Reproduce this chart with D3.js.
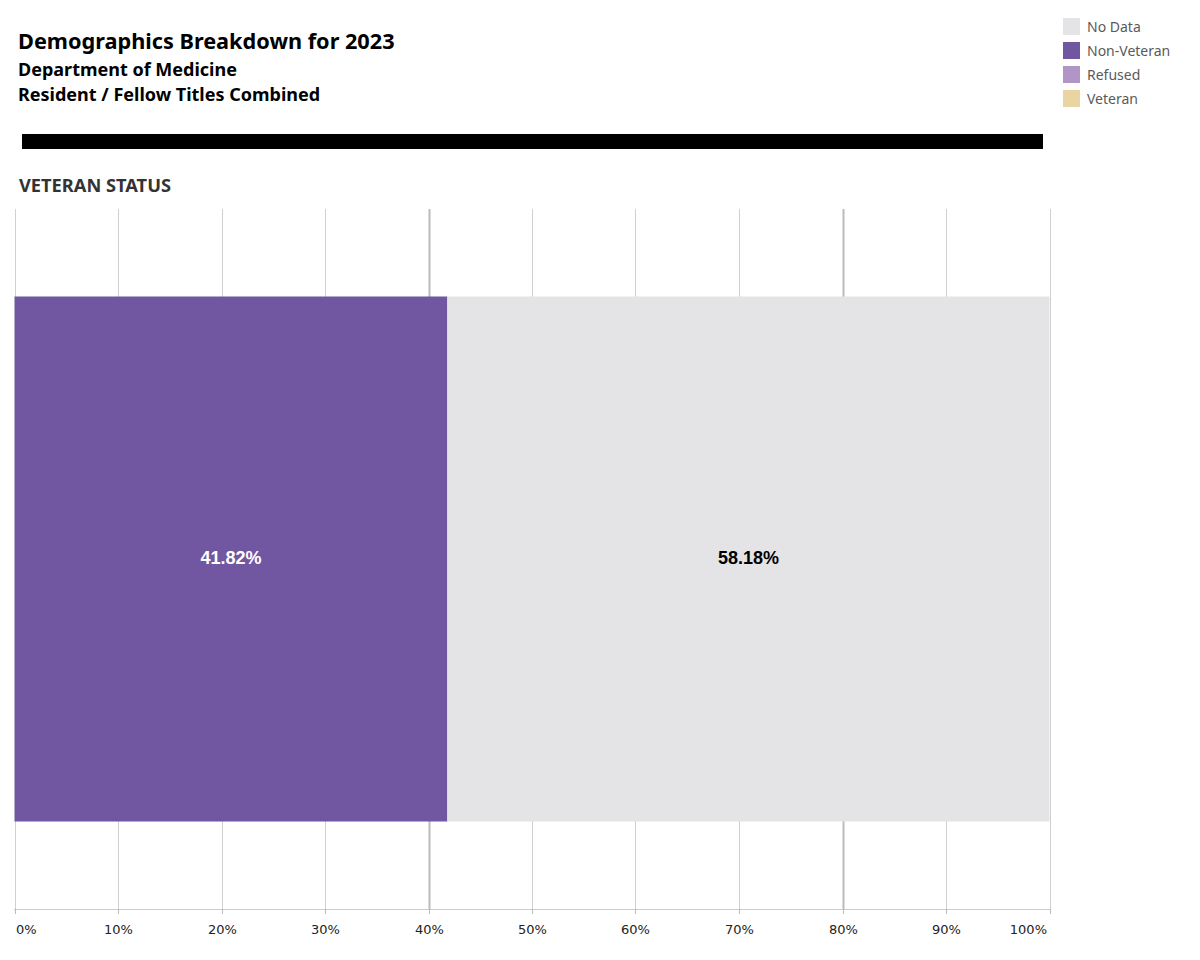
<!DOCTYPE html>
<html><head><meta charset="utf-8">
<script src="https://cdn.jsdelivr.net/npm/d3@7"></script>
<style>body{margin:0;background:#fff}svg{display:block}</style>
</head><body>
<script>
const categories = ["No Data", "Non-Veteran", "Refused", "Veteran"];
const colors = ["#e4e4e6", "#7156a2", "#b096c7", "#e9d4a2"];
const stackOrder = ["Non-Veteran", "No Data"];
const values = [41.82, 58.18];
const tickValues = [0,10,20,30,40,50,60,70,80,90,100];
const tickLabels = ["0%","10%","20%","30%","40%","50%","60%","70%","80%","90%","100%"];

const W = 1200, H = 960;
const svg = d3.select("body").append("svg").attr("width", W).attr("height", H);
const font = "'Noto Sans', 'Open Sans', sans-serif";

// Titles
svg.append("text").attr("x",18).attr("y",49).attr("font-family",font).attr("font-weight","bold").attr("font-size",21.7).attr("fill","#000").text("Demographics Breakdown for 2023");
svg.append("text").attr("x",18).attr("y",76).attr("font-family",font).attr("font-weight","bold").attr("font-size",18).attr("fill","#000").text("Department of Medicine");
svg.append("text").attr("x",18).attr("y",101).attr("font-family",font).attr("font-weight","bold").attr("font-size",18).attr("fill","#000").text("Resident / Fellow Titles Combined");
svg.append("rect").attr("x",22).attr("y",134).attr("width",1021).attr("height",15).attr("fill","#000");
svg.append("text").attr("x",19).attr("y",192).attr("font-family",font).attr("font-weight","bold").attr("font-size",17).attr("fill","#333").attr("textLength",152).attr("lengthAdjust","spacingAndGlyphs").text("VETERAN STATUS");

// Legend
const color = d3.scaleOrdinal().domain(categories).range(colors);
const leg = svg.append("g");
categories.forEach((c,i)=>{
  leg.append("rect").attr("x",1063).attr("y",18+i*24).attr("width",17).attr("height",17).attr("fill",color(c));
  leg.append("text").attr("x",1087).attr("y",32+i*24).attr("font-family",font).attr("font-size",14).attr("fill","#5a5a5a").text(c);
});

// Chart
const x = d3.scaleLinear().domain([0,100]).range([14.5,1049.5]);
const plotTop = 209, plotBottom = 909;
const g = svg.append("g");
tickValues.forEach(v=>{
  const xx = Math.round(x(v))+0.5;
  g.append("line").attr("x1",xx).attr("x2",xx).attr("y1",plotTop).attr("y2",plotBottom).attr("stroke", (v===40||v===80)?"#bbb":"#d0d0d0").attr("stroke-width",(v===40||v===80)?2:1);
});

const y = d3.scaleBand().domain(["Veteran Status"]).range([plotTop,plotBottom]).paddingInner(0).paddingOuter(1/6);
let cum = 0;
const segs = values.map((v,i)=>{const s={cat:stackOrder[i],x0:cum,x1:cum+v,v}; cum+=v; return s;});
g.selectAll("rect.seg").data(segs).enter().append("rect")
  .attr("x",d=>x(d.x0)).attr("width",d=>x(d.x1)-x(d.x0))
  .attr("y",y("Veteran Status")).attr("height",y.bandwidth())
  .attr("fill",d=>color(d.cat));
g.selectAll("text.lbl").data(segs).enter().append("text")
  .attr("x",d=>(x(d.x0)+x(d.x1))/2).attr("y",y("Veteran Status")+y.bandwidth()/2+5)
  .attr("text-anchor","middle").attr("font-family","'Liberation Sans', Arial, sans-serif").attr("font-weight","bold").attr("font-size",18)
  .attr("fill",d=>d.cat==="Non-Veteran"?"#fff":"#000").text(d=>d.v.toFixed(2)+"%");

// Axis
const ax = svg.append("g").attr("transform",`translate(0,${plotBottom})`);
ax.append("line").attr("x1",14).attr("x2",1050).attr("y1",0.5).attr("y2",0.5).attr("stroke","#ccc");
tickValues.forEach((v,i)=>{
  const xx = Math.round(x(v))+0.5;
  ax.append("line").attr("x1",xx).attr("x2",xx).attr("y1",0).attr("y2",5).attr("stroke","#bbb");
  let anchor="middle", tx=xx;
  if(i===0){anchor="start"; tx=16;}
  if(i===tickValues.length-1){anchor="end"; tx=1047;}
  ax.append("text").attr("x",tx).attr("y",25).attr("text-anchor",anchor).attr("font-family","'DejaVu Sans', sans-serif").attr("font-size",13).attr("fill","#222").text(tickLabels[i]);
});
</script>
</body></html>
